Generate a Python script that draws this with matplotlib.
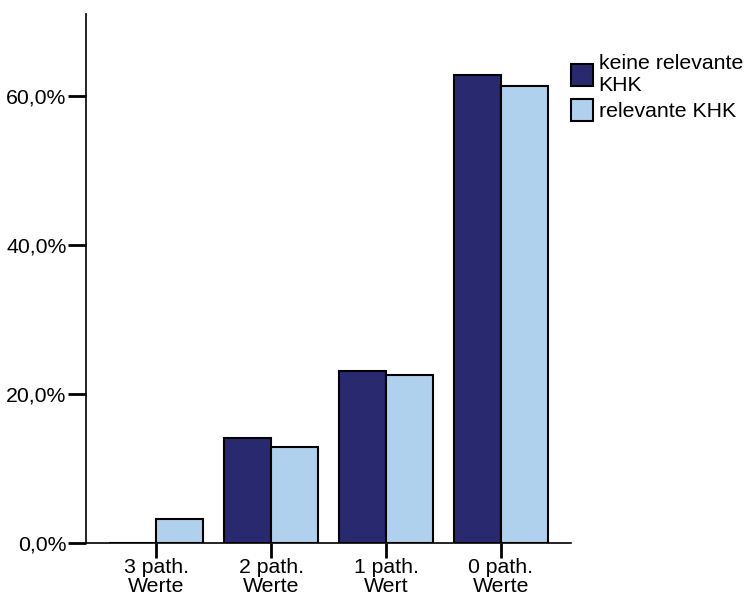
import matplotlib
matplotlib.use("Agg")
import matplotlib.pyplot as plt
import numpy as np
from matplotlib.patches import Patch

plt.rcParams['font.family'] = ['Liberation Sans', 'DejaVu Sans']

categories = ["3 path.\nWerte", "2 path.\nWerte", "1 path.\nWert", "0 path.\nWerte"]
series_names = ["keine relevante\nKHK", "relevante KHK"]
keine_khk = [0.0, 14.1, 23.1, 62.8]
relevante_khk = [3.2, 12.9, 22.6, 61.3]
yticks = [0, 20, 40, 60]
ytick_labels = ["0,0%", "20,0%", "40,0%", "60,0%"]

dark = "#29296f"
light = "#afd1ee"

fig = plt.figure(figsize=(7.46, 5.99), dpi=100)
ax = fig.add_axes([86 / 746, 56 / 599, 485 / 746, 529 / 599])

x = np.arange(len(categories))
w = 0.41
ax.bar(x - w / 2, keine_khk, width=w, color=dark, edgecolor="black", linewidth=1.5, zorder=2)
ax.bar(x + w / 2, relevante_khk, width=w, color=light, edgecolor="black", linewidth=1.5, zorder=2)

ax.set_xlim(-0.609, 3.609)
ax.set_ylim(0, 71)
ax.set_yticks(yticks)
ax.set_yticklabels(ytick_labels)
ax.set_xticks(x)
ax.set_xticklabels(categories, linespacing=1.0)

for s in ["top", "right"]:
    ax.spines[s].set_visible(False)
for s in ["left", "bottom"]:
    ax.spines[s].set_linewidth(1.2)

ax.tick_params(axis="y", direction="out", length=13, width=2, labelsize=15.3, pad=1)
ax.tick_params(axis="x", direction="out", length=11, width=2, labelsize=15.3, pad=0)

handles = [Patch(facecolor=dark, edgecolor="black", linewidth=1.5),
           Patch(facecolor=light, edgecolor="black", linewidth=1.5)]
fig.legend(handles, series_names, loc="upper left", bbox_to_anchor=(571 / 746, 1 - 54 / 599),
           frameon=False, fontsize=15.3, handlelength=1.05, handleheight=1.2,
           handletextpad=0.25, labelspacing=0.2, borderaxespad=0, borderpad=0)

fig.savefig("out.png", dpi=100)
